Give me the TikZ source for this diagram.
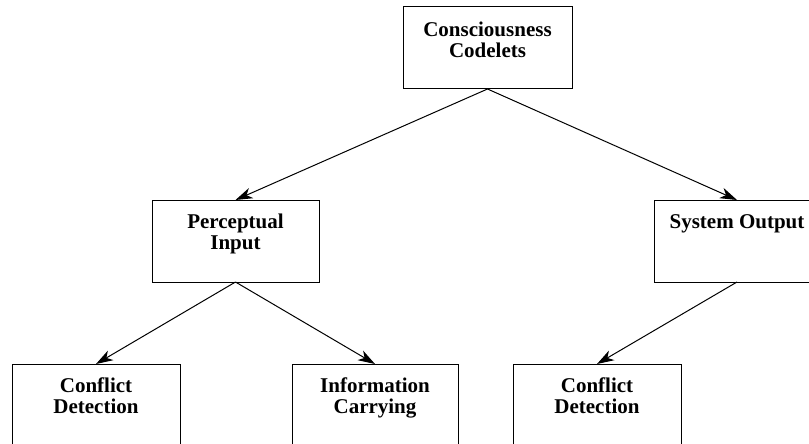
\documentclass[tikz,border=0pt]{standalone}
\usepackage{fontspec}
\setmainfont{Liberation Serif}
\usetikzlibrary{arrows.meta}
\tikzset{
  box/.style={draw, line width=1pt, rectangle, inner sep=0pt, outer sep=0pt,
    anchor=north west, minimum width=#1, minimum height=82pt},
  boxtext/.style={anchor=north, inner sep=0pt, align=center,
    font=\fontsize{21}{20.5}\selectfont\bfseries},
  link/.style={line width=1pt, -{Stealth[length=17pt,width=11pt,inset=5pt]}}
}
\begin{document}
\begin{tikzpicture}[x=1pt,y=-1pt]
\useasboundingbox (0,0) rectangle (809,444);
\begin{scope}
\clip (0,0) rectangle (809,444);
% boxes
\node[box=169pt] (cc) at (403,7) {};
\node[box=167pt] (pi) at (152,200) {};
\node[box=166pt] (so) at (654,200) {};
\node[box=168pt, minimum height=100pt] (cd1) at (12,364) {};
\node[box=166pt, minimum height=100pt] (ic) at (292,364) {};
\node[box=168pt, minimum height=100pt] (cd2) at (513,364) {};
% labels
\node[boxtext] (cct) at ([yshift=-15pt]cc.north) {Consciousness\\Codelets};
\node[boxtext] (pit) at ([yshift=-14pt]pi.north) {Perceptual\\Input};
\node[boxtext] (sot) at ([yshift=-14pt]so.north) {System Output};
\node[boxtext] (cd1t) at ([yshift=-14pt]cd1.north) {Conflict\\Detection};
\node[boxtext] (ict) at ([yshift=-14pt]ic.north) {Information\\Carrying};
\node[boxtext] (cd2t) at ([yshift=-14pt]cd2.north) {Conflict\\Detection};
% connectors
\draw[link] (cc.south) -- (pi.north);
\draw[link] (cc.south) -- (so.north);
\draw[link] (pi.south) -- (cd1.north);
\draw[link] (pi.south) -- (ic.north);
\draw[link] (so.south) -- (cd2.north);
\end{scope}
\end{tikzpicture}
\end{document}
